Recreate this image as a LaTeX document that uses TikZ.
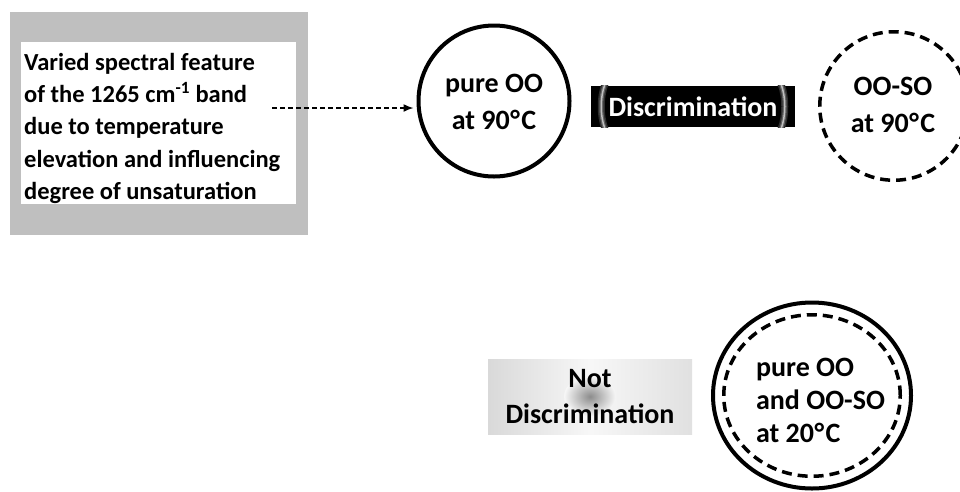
\documentclass[tikz,border=0pt]{standalone}
\usepackage{fontspec}
\setmainfont{Carlito}
\usetikzlibrary{shapes.geometric, arrows.meta}

\definecolor{framegray}{HTML}{BFBFBF}
\newcommand{\degC}{\kern0.5pt°\kern1.5pt C}

\begin{document}
\begin{tikzpicture}[x=1pt, y=-1pt,
  every node/.style={font=\bfseries},
  bigtext/.style={font=\fontsize{28}{37}\selectfont\bfseries, align=center, inner sep=0pt},
  solidring/.style={draw, line width=4pt, inner sep=0pt},
  dashring/.style={draw, line width=3.5pt, dash pattern=on 10pt off 6pt, inner sep=0pt},
  flow/.style={line width=1.5pt, dash pattern=on 5pt off 3pt,
    -{Latex[length=10pt,width=8pt]}, shorten >=3pt},
  glow/.style={line cap=butt}
]
\useasboundingbox (0,0) rectangle (960,491);
\clip (0,0) rectangle (960,491);

% framed note on the left
\fill[framegray] (10,12) rectangle (308,235);
\fill[white] (21,42) rectangle (296,204);
\node[anchor=north west, inner sep=0pt, align=left,
      font=\fontsize{24.5}{32.3}\selectfont\bfseries] (note) at (24,53)
  {Varied spectral feature\\
   of the 1265 cm\textsuperscript{-1} band\\
   due to temperature\\
   elevation and influencing\\
   degree of unsaturation};

% pure OO at 90 C
\node[solidring, circle, minimum size=151pt] (c1) at (494,101) {};
\node[bigtext] (t1) at (494,102) {pure OO\\at 90\degC};

% dashed pointer into the first circle
\coordinate (a0) at (272,108);
\draw[flow] (a0) -- (c1.west |- a0);

% black label with light curved edges
\node[fill=black, minimum width=204pt, minimum height=41pt, inner sep=0pt] (disc) at (693,106.5) {};
\begin{scope}
  \clip (disc.north west) rectangle (disc.south east);
  \foreach \w/\c in {7/18,4/38,1.5/75}{
    \draw[glow, line width=\w pt, white!\c!black]
      (605,84) .. controls (600,97) and (600,116) .. (605,129);
    \draw[glow, line width=\w pt, white!\c!black]
      (781,84) .. controls (786,97) and (786,116) .. (781,129);
  }
\end{scope}
\node[text=white, inner sep=0pt, font=\fontsize{28}{34}\selectfont\bfseries] (disclabel) at (disc) {Discrimination};

% OO-SO at 90 C
\node[dashring, circle, minimum size=148.5pt] (c2) at (894,106) {};
\node[bigtext] (t2) at (893,105) {OO-SO\\at 90\degC};

% grey label with a soft dark smudge
\node[left color=black!15, right color=black!12, middle color=black!3,
      minimum width=204pt, minimum height=75pt, inner sep=0pt] (nd) at (590,396.5) {};
\shade[inner color=black!45, outer color=black!3]
  (nd.center) ellipse [x radius=26pt, y radius=20pt];
\node[bigtext, font=\fontsize{28}{36}\selectfont\bfseries] (ndlabel) at (nd) {Not\\Discrimination};

% double ring: pure OO and OO-SO at 20 C
\node[solidring, ellipse, minimum width=198pt, minimum height=186pt] (e1) at (812,395.5) {};
\node[dashring, ellipse, minimum width=176.5pt, minimum height=161.5pt] (e2) at (812,395.5) {};
\node[bigtext, align=left, font=\fontsize{28}{33}\selectfont\bfseries] (t3) at (820.5,400) {pure OO\\and OO-SO\\at 20\degC};
\end{tikzpicture}
\end{document}
